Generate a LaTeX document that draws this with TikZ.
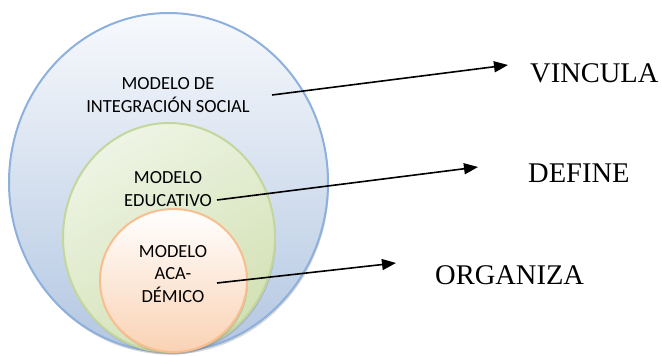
\documentclass[tikz,border=0pt]{standalone}
\usepackage{fontspec}
\setmainfont{Liberation Serif}
\newfontfamily\calibri{Carlito}
\usepackage{tikz}
\usetikzlibrary{positioning, arrows.meta, shapes.geometric, shadows}
\definecolor{socialline}{HTML}{8DB0DC}
\definecolor{socialtop}{HTML}{F7F9FC}
\definecolor{socialbot}{HTML}{B3C7E2}
\definecolor{eduline}{HTML}{C3D69B}
\definecolor{edutop}{HTML}{EEF4E4}
\definecolor{edubot}{HTML}{D2E1B4}
\definecolor{acaline}{HTML}{F8BE8E}
\definecolor{acatop}{HTML}{FFFFFF}
\definecolor{acabot}{HTML}{FAD2B4}

\begin{document}
\begin{tikzpicture}[x=1pt,y=-1pt,
  model/.style={ellipse, draw, line width=2pt, inner sep=0pt,
    drop shadow={opacity=0.3, shadow xshift=1pt, shadow yshift=-2.5pt}},
  modtext/.style={font=\calibri\fontsize{18.5}{22.5}\selectfont, align=center, inner sep=0pt},
  verb/.style={font=\fontsize{28.5}{30}\selectfont, anchor=west, inner sep=0pt},
  link/.style={line width=1.6pt, -{Triangle[length=14pt,width=11pt]}}]
\useasboundingbox (0,0) rectangle (662,356);

\node[model, draw=socialline, top color=socialtop, bottom color=socialbot,
  minimum width=319pt, minimum height=339pt] (social) at (168.5,182.5) {};
\node[model, draw=eduline, top color=edutop, bottom color=edubot, shading angle=30,
  minimum width=212pt, minimum height=229pt] (edu) at (169,237.5) {};
\node[model, draw=acaline, top color=acatop, bottom color=acabot,
  minimum width=147pt, minimum height=143pt] (aca) at (173.5,280.5) {};

\node[modtext] (socialtxt) at (168,95) {MODELO DE\\INTEGRACIÓN SOCIAL};
\node[modtext] (edutxt) at (168,189) {MODELO\\EDUCATIVO};
\node[modtext] (acatxt) at (173,274) {MODELO\\ACA-\\DÉMICO};

\node[verb] (vincula) at (530,73) {VINCULA};
\node[verb] (define) at (528,173) {DEFINE};
\node[verb] (organiza) at (435,275) {ORGANIZA};

\coordinate (s1) at (272,95);
\coordinate (e1) at (508,65);
\coordinate (s2) at (217,200);
\coordinate (e2) at (478,167);
\coordinate (s3) at (217,283);
\coordinate (e3) at (396,263);

\draw[link] (s1) -- (e1);
\draw[link] (s2) -- (e2);
\draw[link] (s3) -- (e3);
\end{tikzpicture}
\end{document}
